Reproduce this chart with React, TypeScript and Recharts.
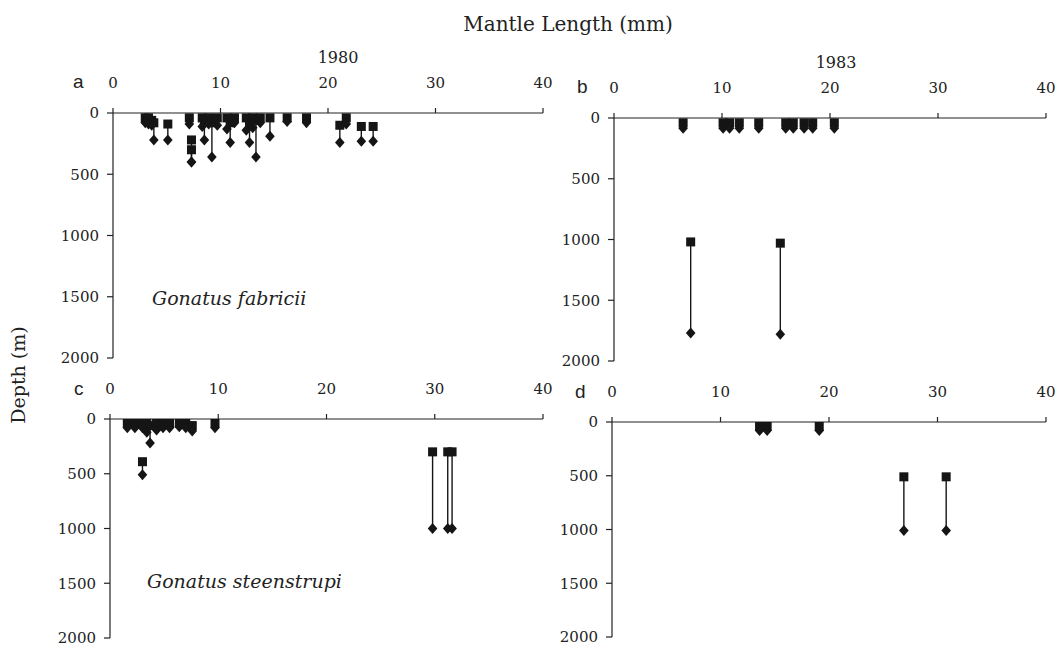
import React from 'react';
import { ScatterChart, Scatter, XAxis, YAxis, ErrorBar } from 'recharts';

// Panel a: Gonatus fabricii, 1980
const aLength = [3.0, 3.3, 3.6, 3.8, 5.1, 7.1, 7.3, 7.3, 8.3, 8.5, 8.9, 9.2, 9.7, 10.6, 10.9, 11.3, 12.4, 12.7, 13.0, 13.3, 13.7, 14.6, 16.2, 18.0, 21.1, 21.7, 23.1, 24.2];
const aTop = [40, 40, 60, 80, 90, 40, 220, 300, 40, 60, 40, 80, 40, 40, 80, 40, 40, 100, 40, 60, 40, 40, 40, 40, 100, 40, 110, 110];
const aBottom = [80, 90, 100, 220, 220, 90, 400, 400, 110, 220, 90, 360, 100, 130, 240, 80, 140, 240, 120, 360, 80, 190, 70, 80, 240, 90, 230, 230];

// Panel b: Gonatus fabricii, 1983
const bLength = [6.4, 10.1, 10.7, 11.6, 13.4, 15.9, 16.6, 17.6, 18.4, 20.4, 7.1, 15.4];
const bTop = [40, 40, 40, 40, 40, 40, 40, 40, 40, 40, 1020, 1030];
const bBottom = [85, 85, 85, 85, 85, 85, 85, 85, 85, 85, 1770, 1780];

// Panel c: Gonatus steenstrupi, 1980
const cLength = [1.6, 2.3, 3.0, 3.4, 3.7, 4.3, 4.9, 5.5, 3.0, 6.4, 7.0, 7.6, 9.7, 29.8, 31.2, 31.6];
const cTop = [40, 40, 40, 40, 60, 40, 40, 40, 390, 40, 40, 60, 40, 300, 300, 300];
const cBottom = [80, 80, 80, 120, 220, 100, 80, 80, 510, 70, 80, 110, 80, 1000, 1000, 1000];

// Panel d: Gonatus steenstrupi, 1983
const dLength = [13.6, 14.3, 19.1, 26.9, 30.8];
const dTop = [40, 40, 40, 510, 510];
const dBottom = [80, 80, 80, 1010, 1010];

const lengthTicks = [0, 10, 20, 30, 40];
const depthTicks = [0, 500, 1000, 1500, 2000];

function build(len: number[], top: number[], bottom: number[]) {
  return {
    squares: len.map((x, i) => ({ x, d: top[i], span: [0, bottom[i] - top[i]] })),
    diamonds: len.map((x, i) => ({ x, d: bottom[i] })),
  };
}

const INK = '#151515';

const SquareShape = (p: any) => {
  const { cx, cy } = p;
  if (cx == null || cy == null) return null;
  return <rect x={cx - 4.5} y={cy - 4.5} width={9} height={9} fill={INK} />;
};

const DiamondShape = (p: any) => {
  const { cx, cy } = p;
  if (cx == null || cy == null) return null;
  return <path d={`M${cx},${cy - 5.5}L${cx + 4.8},${cy}L${cx},${cy + 5.5}L${cx - 4.8},${cy}Z`} fill={INK} />;
};

const YW = 60;
const XH = 40;
const MR = 12;
const MB = 12;

const axisLine = { stroke: '#222', strokeWidth: 1.2 };
const tickStyle = { fontFamily: 'DejaVu Serif', fontSize: 15, fill: '#222' };

function Panel({ x0, y0, w, h, len, top, bottom }: any) {
  const { squares, diamonds } = build(len, top, bottom);
  return (
    <div style={{ position: 'absolute', left: x0 - YW, top: y0 - XH }}>
      <ScatterChart width={YW + w + MR} height={XH + h + MB} margin={{ top: 0, right: MR, bottom: MB, left: 0 }}>
        <XAxis
          type="number"
          dataKey="x"
          orientation="top"
          domain={[0, 40]}
          ticks={lengthTicks}
          interval={0}
          height={XH}
          tickSize={5}
          tickMargin={20}
          axisLine={axisLine}
          tickLine={axisLine}
          tick={tickStyle}
          allowDataOverflow
        />
        <YAxis
          type="number"
          dataKey="d"
          domain={[0, 2000]}
          reversed
          ticks={depthTicks}
          interval={0}
          width={YW}
          tickSize={6}
          tickMargin={8}
          axisLine={axisLine}
          tickLine={axisLine}
          tick={tickStyle}
          allowDataOverflow
        />
        <Scatter data={squares} shape={SquareShape} isAnimationActive={false}>
          <ErrorBar dataKey="span" direction="y" width={0} stroke={INK} strokeWidth={1.4} isAnimationActive={false} />
        </Scatter>
        <Scatter data={diamonds} shape={DiamondShape} isAnimationActive={false} />
      </ScatterChart>
    </div>
  );
}

export default function App() {
  const serif = 'DejaVu Serif';
  return (
    <div style={{ position: 'absolute', left: 0, top: 0, width: 1061, height: 645, background: '#fff' }}>
      <Panel x0={113} y0={113} w={430} h={245} len={aLength} top={aTop} bottom={aBottom} />
      <Panel x0={614} y0={118} w={432} h={243} len={bLength} top={bTop} bottom={bBottom} />
      <Panel x0={110} y0={419} w={433} h={219} len={cLength} top={cTop} bottom={cBottom} />
      <Panel x0={612} y0={422} w={434} h={215} len={dLength} top={dTop} bottom={dBottom} />
      <svg width={1061} height={645} style={{ position: 'absolute', left: 0, top: 0, pointerEvents: 'none' }}>
        <text x={568} y={31} textAnchor="middle" fontFamily={serif} fontSize={20} fill="#222">Mantle Length (mm)</text>
        <text x={338} y={63} textAnchor="middle" fontFamily={serif} fontSize={16} fill="#222">1980</text>
        <text x={836} y={68} textAnchor="middle" fontFamily={serif} fontSize={16} fill="#222">1983</text>
        <text x={73} y={88} fontFamily="Liberation Sans" fontSize={19} fill="#222">a</text>
        <text x={577} y={93} fontFamily="Liberation Sans" fontSize={19} fill="#222">b</text>
        <text x={74} y={395} fontFamily="Liberation Sans" fontSize={19} fill="#222">c</text>
        <text x={575} y={398} fontFamily="Liberation Sans" fontSize={19} fill="#222">d</text>
        <text x={152} y={305} fontFamily={serif} fontStyle="italic" fontSize={19} fill="#222">Gonatus fabricii</text>
        <text x={147} y={588} fontFamily={serif} fontStyle="italic" fontSize={19} fill="#222">Gonatus steenstrupi</text>
        <text x={0} y={0} transform="translate(25,375) rotate(-90)" textAnchor="middle" fontFamily={serif} fontSize={19} fill="#222">Depth (m)</text>
      </svg>
    </div>
  );
}
